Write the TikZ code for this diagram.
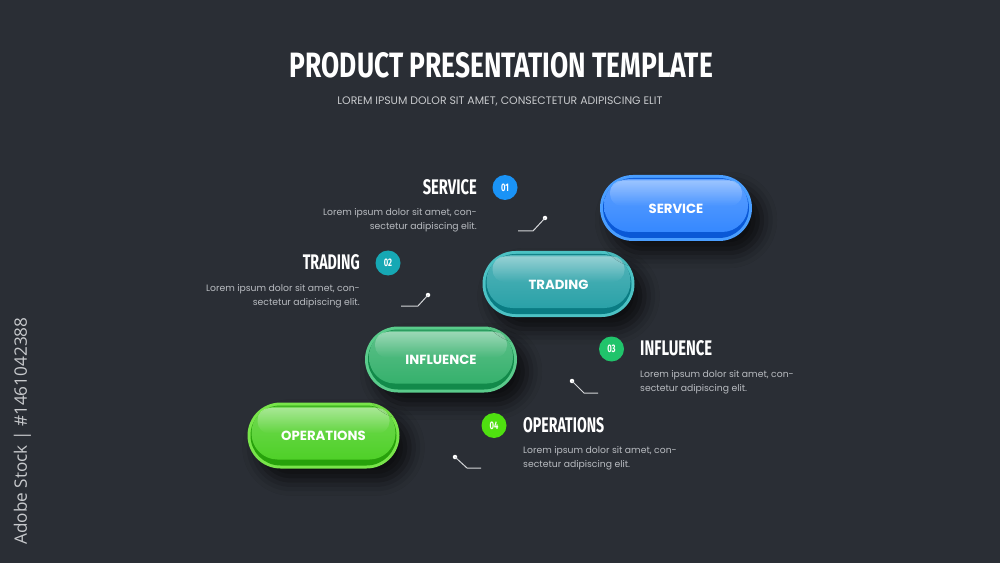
\documentclass[tikz,border=0pt]{standalone}
\usepackage{fontspec}
\setmainfont{Poppins}
\newfontfamily\hdfont{Fira Sans}
\newfontfamily\wmfont{Open Sans}
\usetikzlibrary{shadows.blur,fadings}
\definecolor{bg}{HTML}{2A2E35}
\definecolor{bodytxt}{HTML}{B9BCC1}
\definecolor{subtxt}{HTML}{C8CACD}
\definecolor{leader}{HTML}{D4D6D9}
\definecolor{svbase}{HTML}{1F7BFF}\definecolor{svrim}{HTML}{4A9EFF}\definecolor{svdark}{HTML}{0A58D6}
\definecolor{trbase}{HTML}{12979E}\definecolor{trrim}{HTML}{4CC2C4}\definecolor{trdark}{HTML}{0A7C83}
\definecolor{inbase}{HTML}{1FA85C}\definecolor{inrim}{HTML}{5ACB8B}\definecolor{indark}{HTML}{128A4A}
\definecolor{opbase}{HTML}{3BCB10}\definecolor{oprim}{HTML}{78E54A}\definecolor{opdark}{HTML}{27A10B}
\definecolor{nA}{HTML}{1A93F6}\definecolor{nB}{HTML}{16A8B4}\definecolor{nC}{HTML}{20C46B}\definecolor{nD}{HTML}{4FE010}
\tikzset{
  pilltxt/.style={text=white,font=\fontsize{13.3}{13.3}\selectfont\bfseries,inner sep=0pt},
  numc/.style={circle,minimum size=25bp,inner sep=0pt,text=white,font=\hdfont\bfseries\fontsize{11}{11}\selectfont},
  head/.style={text=white,inner sep=0pt},
  bodyr/.style={text=bodytxt,align=right,inner sep=0pt,font=\fontsize{9.3}{14}\selectfont},
  bodyl/.style={text=bodytxt,align=left,inner sep=0pt,font=\fontsize{9.3}{14}\selectfont},
  leaderline/.style={draw=leader,line width=1bp},
  leaderdot/.style={circle,fill=white,minimum size=4.5bp,inner sep=0pt}
}
\newcommand\glosspill[3]{%
\begin{scope}[shift={(#1,#2)}]
\fill[#3rim, rounded corners=33bp, blur shadow={shadow xshift=10bp,shadow yshift=-12bp,shadow blur radius=15bp,shadow opacity=70}] (-76,-33) rectangle (76,33);
\fill[#3dark, rounded corners=30bp] (-73,-30) rectangle (73,30);
\shade[rounded corners=26bp, top color=#3base!72!white, middle color=#3base, bottom color=#3base!90!white] (-72,-29) rectangle (72,24);
\fill[white, path fading=south, opacity=0.38, rounded corners=12bp] (-66,-27.5) rectangle (66,-2);
\end{scope}}
\newcommand\hd[2]{\resizebox{#1bp}{15bp}{\hdfont\bfseries #2}}
\newcommand\numtxt[1]{\scalebox{0.7}[1]{#1}}
\begin{document}
\begin{tikzpicture}[x=1bp,y=-1bp]
\fill[bg] (0,0) rectangle (1000,563);
\useasboundingbox (0,0) rectangle (1000,563);
% title
\node[head] (title) at (501.5,65) {\resizebox{423bp}{25bp}{\hdfont\bfseries PRODUCT PRESENTATION TEMPLATE}};
\node[text=subtxt,inner sep=0pt] (subtitle) at (500,101.5) {\resizebox{325bp}{!}{\fontsize{10}{10}\selectfont LOREM IPSUM DOLOR SIT AMET, CONSECTETUR ADIPISCING ELIT}};
% side text
\node[text=subtxt,rotate=90,inner sep=0pt] (stock) at (22.5,431) {\resizebox{227bp}{!}{\wmfont\fontsize{15}{15}\selectfont Adobe Stock | \#1461042388}};
% pills
\glosspill{323.5}{435.5}{op}
\glosspill{441}{359.5}{in}
\glosspill{558.5}{284}{tr}
\glosspill{676}{208}{sv}
\node[pilltxt] (pS) at (676,208.5) {SERVICE};
\node[pilltxt] (pT) at (558.5,284.5) {TRADING};
\node[pilltxt] (pI) at (441,360) {INFLUENCE};
\node[pilltxt] (pO) at (323.5,436) {OPERATIONS};
% service label
\node[head,anchor=east] (hS) at (477,187.5) {\hd{54}{SERVICE}};
\node[numc,fill=nA] (nS) at (505,187.5) {\numtxt{01}};
\node[bodyr,anchor=east] (bS) at (477,220) {Lorem ipsum dolor sit amet, con-\\sectetur adipiscing elit.};
\node[leaderdot] (dS) at (545,218) {};
\coordinate (kS) at (533,231); \coordinate (eS) at (518,231);
\draw[leaderline] (dS.center) -- (kS) -- (eS);
% trading label
\node[head,anchor=east] (hT) at (360,262.5) {\hd{57}{TRADING}};
\node[numc,fill=nB] (nT) at (388,263) {\numtxt{02}};
\node[bodyr,anchor=east] (bT) at (360,296) {Lorem ipsum dolor sit amet, con-\\sectetur adipiscing elit.};
\node[leaderdot] (dT) at (428,295) {};
\coordinate (kT) at (418,306); \coordinate (eT) at (401,306);
\draw[leaderline] (dT.center) -- (kT) -- (eT);
% influence label
\node[head,anchor=west] (hI) at (640,348.5) {\hd{72}{INFLUENCE}};
\node[numc,fill=nC] (nI) at (611.5,349) {\numtxt{03}};
\node[bodyl,anchor=west] (bI) at (640,382) {Lorem ipsum dolor sit amet, con-\\sectetur adipiscing elit.};
\node[leaderdot] (dI) at (572,381) {};
\coordinate (kI) at (584,393); \coordinate (eI) at (598,393);
\draw[leaderline] (dI.center) -- (kI) -- (eI);
% operations label
\node[head,anchor=west] (hO) at (523,425) {\hd{81}{OPERATIONS}};
\node[numc,fill=nD] (nO) at (494,425.5) {\numtxt{04}};
\node[bodyl,anchor=west] (bO) at (523,458) {Lorem ipsum dolor sit amet, con-\\sectetur adipiscing elit.};
\node[leaderdot] (dO) at (455,457) {};
\coordinate (kO) at (467,468); \coordinate (eO) at (481,468);
\draw[leaderline] (dO.center) -- (kO) -- (eO);
\end{tikzpicture}
\end{document}
